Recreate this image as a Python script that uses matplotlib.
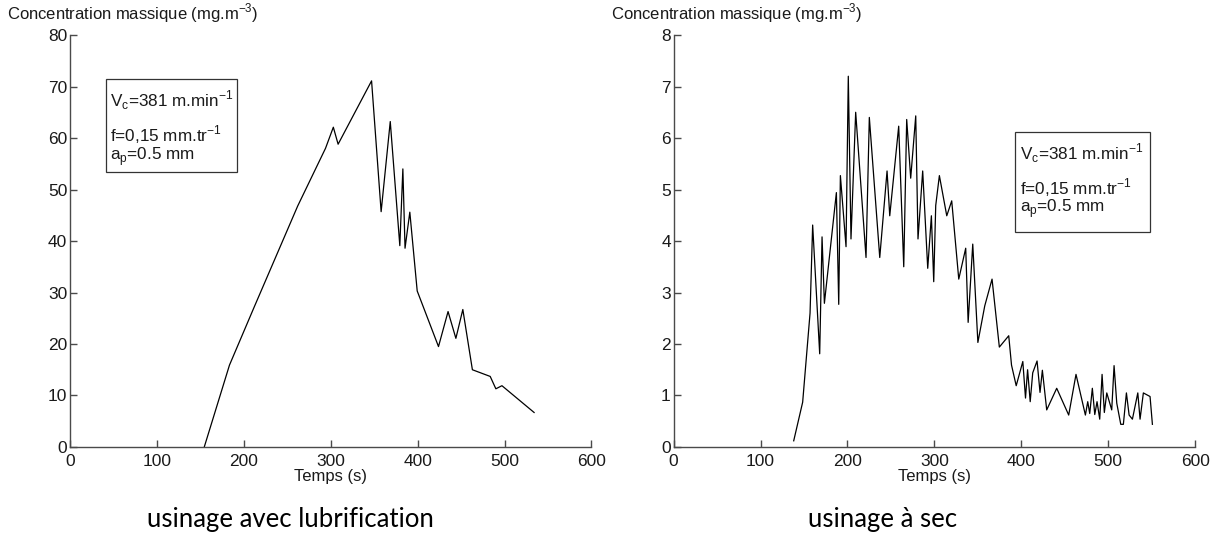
import matplotlib
matplotlib.use('Agg')
import matplotlib.pyplot as plt
from matplotlib.patches import Rectangle

plt.rcParams['font.family'] = ['Liberation Sans', 'DejaVu Sans']
plt.rcParams['mathtext.fontset'] = 'custom'
plt.rcParams['mathtext.rm'] = 'Liberation Sans'

# usinage avec lubrification
t_lub = [154.5, 183.5, 212, 262, 294, 303, 308.5, 347, 358, 368.5, 379.5, 383,
         385.5, 391, 399.5, 424, 435, 444, 452, 463, 483.5, 490, 497, 534]
c_lub = [0, 15.9, 27.2, 46.8, 58, 62.1, 58.8, 71.1, 45.7, 63.2, 39.1, 54.0,
         38.6, 45.6, 30.3, 19.5, 26.3, 21.1, 26.7, 15.0, 13.7, 11.3, 11.9, 6.7]

# usinage a sec
t_sec = [138.2, 148.5, 157, 160, 168.1, 170.8, 173.5, 187.3, 190, 191.9, 198.4, 201,
         204.1, 209.5, 221.4, 225.2, 237.2, 245.6, 248.7, 259, 264.8, 268.2, 272.8,
         278.6, 281.2, 286.6, 292.4, 296.6, 299.3, 301.6, 305.8, 314.3, 320, 328.1,
         336.1, 338.9, 344.2, 350.1, 358, 366.4, 374.8, 385.6, 388.8, 394.2, 401.8,
         404.9, 407.3, 410.3, 413.2, 418.2, 421.6, 424.3, 429.3, 440.8, 454.6, 463,
         473.8, 476.5, 478.8, 481.8, 484.6, 487.2, 490.3, 493, 495.6, 498.4, 504.1,
         506.8, 509.9, 514.5, 517.5, 521, 524.1, 527.9, 534.1, 536.7, 540.5, 548.2, 550.9]
c_sec = [0.12, 0.87, 2.6, 4.31, 1.81, 4.08, 2.79, 4.94, 2.77, 5.27, 3.89, 7.2,
         4.04, 6.5, 3.68, 6.4, 3.68, 5.36, 4.49, 6.23, 3.5, 6.36, 5.22,
         6.43, 4.04, 5.36, 3.47, 4.49, 3.21, 4.69, 5.27, 4.49, 4.78, 3.26,
         3.86, 2.42, 3.94, 2.03, 2.74, 3.26, 1.94, 2.16, 1.59, 1.19, 1.66,
         0.95, 1.5, 0.88, 1.44, 1.67, 1.06, 1.49, 0.72, 1.14, 0.62, 1.41,
         0.62, 0.88, 0.65, 1.14, 0.63, 0.88, 0.54, 1.41, 0.67, 1.05, 0.72,
         1.58, 0.85, 0.44, 0.44, 1.05, 0.62, 0.54, 1.05, 0.54, 1.05, 0.98, 0.44]

x_ticks = [0, 100, 200, 300, 400, 500, 600]
ylim_lub = 80
ylim_sec = 8
param_lines = [r'V$_\mathregular{c}$=381 m.min$^\mathregular{-1}$',
               r'f=0,15 mm.tr$^\mathregular{-1}$',
               r'a$_\mathregular{p}$=0.5 mm']
subtitles = ['usinage avec lubrification', 'usinage à sec']

axis_col = '#4a4a4a'
txt_col = '#1a1a1a'


def panel(ax, t, c, ymax, box, txt_x, txt_y):
    ax.plot(t, c, color='black', lw=0.9)
    ax.set_xlim(0, 600)
    ax.set_ylim(0, ymax)
    ax.set_xticks(x_ticks)
    ax.set_yticks(range(0, ymax + 1, ymax // 8))
    ax.spines['top'].set_visible(False)
    ax.spines['right'].set_visible(False)
    for s in ['left', 'bottom']:
        ax.spines[s].set_color(axis_col)
        ax.spines[s].set_linewidth(1.0)
    ax.tick_params(direction='in', length=5, width=1, color=axis_col,
                   labelsize=12.5, labelcolor=txt_col, pad=5)
    ax.tick_params(axis='y', pad=2)
    ax.set_xlabel('Temps (s)', fontsize=12, color=txt_col, labelpad=0)
    ax.text(-0.12, 1.024, r'Concentration massique (mg.m$^\mathregular{-3}$)',
            transform=ax.transAxes, fontsize=12, color=txt_col,
            ha='left', va='bottom')
    x0, y0, x1, y1 = box
    ax.add_patch(Rectangle((x0, y1), x1 - x0, y0 - y1, transform=ax.transAxes,
                           fill=False, edgecolor='#333333', lw=0.9))
    for s, yy in zip(param_lines, txt_y):
        ax.text(txt_x, yy, s, transform=ax.transAxes, fontsize=12.3,
                color=txt_col, ha='left', va='center')


fig = plt.figure(figsize=(12.15, 5.5), dpi=100)
ax1 = fig.add_axes([0.0576, 0.1873, 0.4292, 0.749])
ax2 = fig.add_axes([0.5544, 0.1873, 0.4292, 0.749])

panel(ax1, t_lub, c_lub, ylim_lub, (0.069, 0.893, 0.320, 0.667),
      0.077, [0.842, 0.758, 0.706])
panel(ax2, t_sec, c_sec, ylim_sec, (0.655, 0.765, 0.913, 0.522),
      0.664, [0.714, 0.630, 0.578])

fig.text(290 / 1215, 1 - 520 / 550, subtitles[0], fontsize=18.5,
         family=['Lato', 'DejaVu Sans'], ha='center', va='center')
fig.text(883 / 1215, 1 - 520 / 550, subtitles[1], fontsize=18.5,
         family=['Lato', 'DejaVu Sans'], ha='center', va='center')

fig.savefig('out.png', dpi=100)
